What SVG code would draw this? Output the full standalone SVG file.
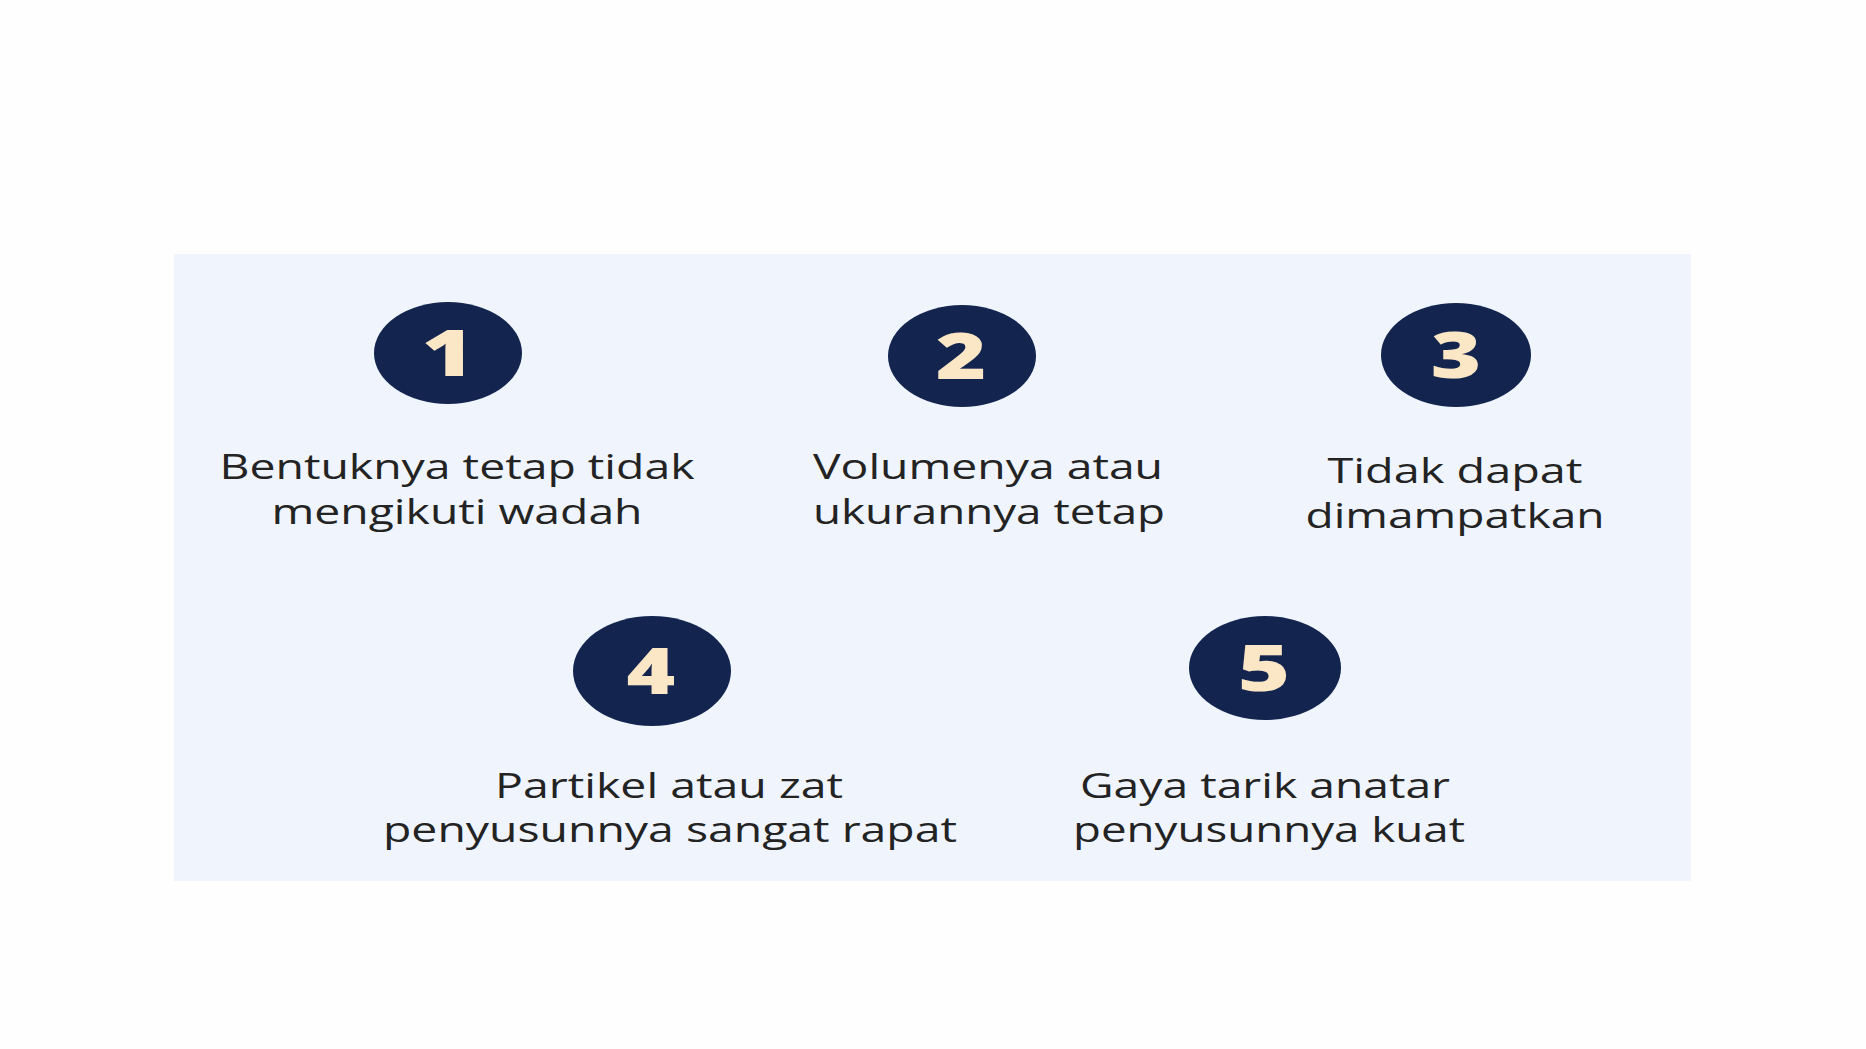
<svg xmlns="http://www.w3.org/2000/svg" width="1866" height="1049" viewBox="0 0 1866 1049">
<style>
.badge{fill:#13254F}
.num{fill:#FBE6C5;font-family:"Open Sans","DejaVu Sans",sans-serif;font-weight:800;font-size:64px;text-anchor:middle}
.lbl{fill:#232323;font-family:"Open Sans","DejaVu Sans",sans-serif;font-size:34px;text-anchor:middle}
</style>
<rect x="0" y="0" width="1866" height="1049" fill="#FEFEFE"/>
<rect id="panel" x="174" y="254" width="1517" height="627" fill="#EFF4FD"/>
<g id="connectors"/>
<g id="node1">
<ellipse class="badge" cx="448" cy="353" rx="74" ry="51"/>
<text class="num" transform="translate(448,376) scale(1.4,1)">1</text>
<text class="lbl" x="457" y="479" textLength="475" lengthAdjust="spacingAndGlyphs">Bentuknya tetap tidak</text>
<text class="lbl" x="457" y="524" textLength="371" lengthAdjust="spacingAndGlyphs">mengikuti wadah</text>
</g>
<g id="node2">
<ellipse class="badge" cx="962" cy="356" rx="74" ry="51"/>
<text class="num" transform="translate(961,379) scale(1.35,1)">2</text>
<text class="lbl" x="988" y="479" textLength="350" lengthAdjust="spacingAndGlyphs">Volumenya atau</text>
<text class="lbl" x="989" y="524" textLength="352" lengthAdjust="spacingAndGlyphs">ukurannya tetap</text>
</g>
<g id="node3">
<ellipse class="badge" cx="1456" cy="355" rx="75" ry="52"/>
<text class="num" transform="translate(1456,378) scale(1.35,1)">3</text>
<text class="lbl" x="1455" y="483" textLength="255" lengthAdjust="spacingAndGlyphs">Tidak dapat</text>
<text class="lbl" x="1455" y="528" textLength="299" lengthAdjust="spacingAndGlyphs">dimampatkan</text>
</g>
<g id="node4">
<ellipse class="badge" cx="652" cy="671" rx="79" ry="55"/>
<text class="num" transform="translate(651,694) scale(1.3,1)">4</text>
<text class="lbl" x="669" y="798" textLength="348" lengthAdjust="spacingAndGlyphs">Partikel atau zat</text>
<text class="lbl" x="670" y="842" textLength="574" lengthAdjust="spacingAndGlyphs">penyusunnya sangat rapat</text>
</g>
<g id="node5">
<ellipse class="badge" cx="1265" cy="668" rx="76" ry="52"/>
<text class="num" transform="translate(1264,691) scale(1.4,1)">5</text>
<text class="lbl" x="1265" y="798" textLength="370" lengthAdjust="spacingAndGlyphs">Gaya tarik anatar</text>
<text class="lbl" x="1269" y="842" textLength="392" lengthAdjust="spacingAndGlyphs">penyusunnya kuat</text>
</g>
</svg>
